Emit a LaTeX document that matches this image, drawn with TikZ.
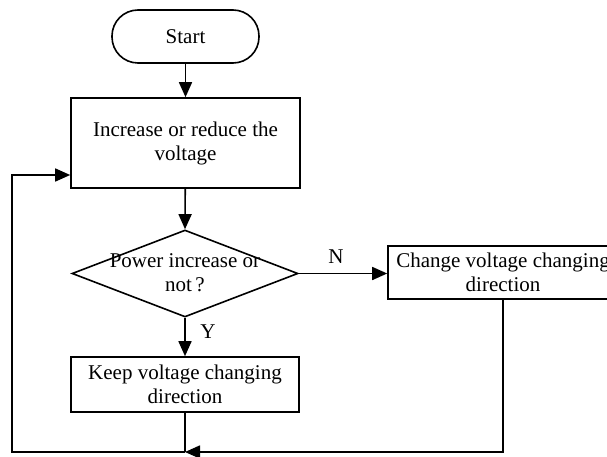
\documentclass[tikz,border=0pt]{standalone}
\usepackage{fontspec}
\setmainfont{Liberation Serif}
\usetikzlibrary{shapes.geometric,arrows.meta}
\begin{document}
\begin{tikzpicture}[x=1pt,y=-1pt, line width=1.6pt,
  txt/.style={font=\fontsize{21}{24}\selectfont, align=center},
  box/.style={draw, rectangle, inner sep=0pt, txt},
  arr/.style={-{Triangle[length=15pt,width=13pt]}},
  lbl/.style={font=\fontsize{21}{24}\selectfont, inner sep=0pt}]
\useasboundingbox (0,0) rectangle (607,457);
\node[box, rounded corners=26pt, minimum width=147pt, minimum height=53pt] (start) at (185.5,36.5) {Start};
\node[box, minimum width=229pt, minimum height=90pt] (inc) at (185.5,143) {Increase or reduce the\\voltage};
\node[draw, diamond, inner sep=0pt, minimum width=226pt, minimum height=87pt] (dec) at (185,273.5) {};
\node[txt, inner sep=0pt] (dectxt) at (185,273) {Power increase or\\not\,?};
\node[box, minimum width=230pt, minimum height=53pt] (chg) at (503,272.5) {Change voltage changing\\direction};
\node[box, minimum width=228pt, minimum height=55pt] (keep) at (185,384.5) {Keep voltage changing\\direction};
\coordinate (join) at (185,452);
\coordinate (cr) at (503,452);
\coordinate (bl) at (12,452);
\coordinate (tl) at (12,175);
\node[lbl] (nlbl) at (336,256.5) {N};
\node[lbl] (ylbl) at (208,332) {Y};
\draw[arr] (start) -- (inc);
\draw[arr] (inc) -- (dec.north);
\draw[arr] (dec.east) -- (chg.west |- dec.east);
\draw[arr] (dec.south) -- (keep);
\draw (keep.south) -- (join);
\draw[arr] (chg.south) -- (cr) -- (join);
\draw[arr] (join) -- (bl) -- (tl) -- (inc.west |- tl);
\end{tikzpicture}
\end{document}
